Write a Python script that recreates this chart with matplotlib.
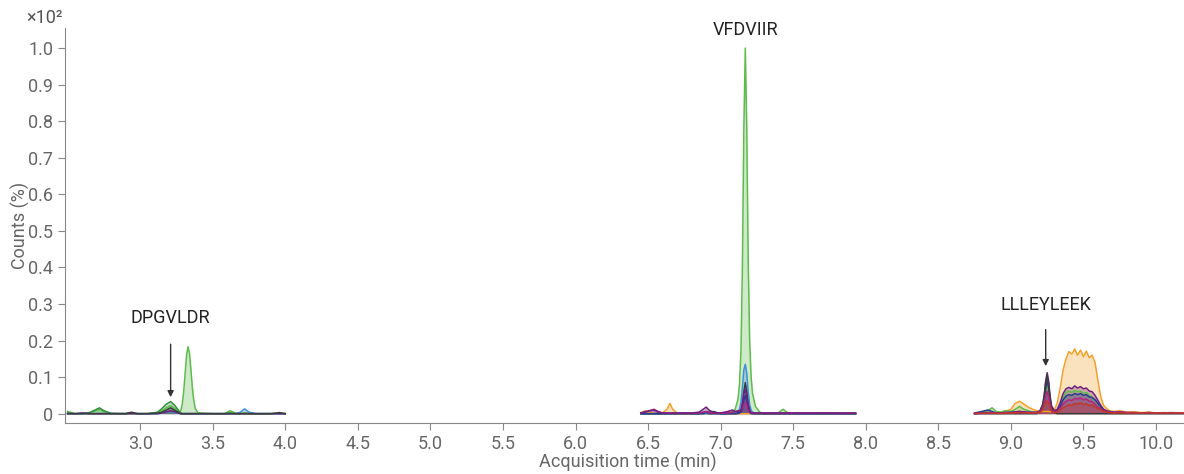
import matplotlib
matplotlib.use("Agg")
import matplotlib.pyplot as plt

plt.rcParams["font.family"] = ["Roboto", "DejaVu Sans"]

# segment 1 (2.5 - 4.0 min)
t1 = [2.50, 2.55, 2.60, 2.65, 2.69, 2.72, 2.75, 2.80, 2.90, 2.94, 2.98,
      3.05, 3.12, 3.15, 3.18, 3.21, 3.24, 3.27,
      3.28, 3.29, 3.30, 3.31, 3.32, 3.33, 3.34, 3.35, 3.36, 3.37, 3.38, 3.40,
      3.50, 3.58, 3.62, 3.66, 3.69, 3.72, 3.75, 3.80, 3.90, 3.96, 4.00]
s1_green = [0.006, 0, 0, 0.002, 0.008, 0.012, 0.006, 0, 0, 0.002, 0,
            0, 0.002, 0.008, 0.016, 0.022, 0.014, 0.004,
            0.008, 0.025, 0.06, 0.11, 0.16, 0.183, 0.165, 0.12, 0.07, 0.035, 0.014, 0.002,
            0, 0, 0.008, 0.001, 0, 0.003, 0, 0, 0, 0, 0]
s1_dkgreen = [0.002, 0, 0, 0.003, 0.010, 0.016, 0.008, 0.001, 0, 0, 0,
              0, 0.004, 0.014, 0.026, 0.033, 0.022, 0.006,
              0.002, 0, 0, 0, 0, 0, 0, 0, 0, 0, 0, 0,
              0, 0, 0.002, 0, 0, 0, 0, 0, 0, 0, 0]
s1_gray = [0, 0, 0, 0, 0, 0, 0, 0, 0, 0.004, 0,
           0, 0.001, 0.004, 0.010, 0.016, 0.009, 0.002,
           0, 0, 0, 0, 0, 0, 0, 0, 0, 0, 0, 0,
           0, 0, 0, 0, 0, 0, 0, 0, 0, 0.003, 0]
s1_blue = [0, 0, 0, 0, 0, 0, 0, 0, 0, 0.002, 0,
           0, 0, 0.002, 0.004, 0.006, 0.004, 0.001,
           0, 0, 0, 0, 0, 0, 0, 0, 0, 0, 0, 0,
           0, 0, 0, 0, 0.004, 0.013, 0.004, 0, 0, 0, 0]
s1_purple = [0, 0, 0.002, 0, 0, 0, 0, 0, 0, 0, 0,
             0, 0, 0.002, 0.005, 0.008, 0.005, 0.001,
             0, 0, 0, 0, 0, 0, 0, 0, 0, 0, 0, 0,
             0, 0, 0, 0, 0, 0, 0, 0, 0, 0, 0]

# segment 2 (6.45 - 7.93 min)
t2 = [6.45, 6.48, 6.51, 6.54, 6.57, 6.60, 6.63, 6.65, 6.67, 6.70,
      6.75, 6.80, 6.85, 6.88, 6.90, 6.92, 6.95, 7.00, 7.05, 7.08,
      7.10, 7.12, 7.13, 7.14, 7.15, 7.16, 7.17, 7.18, 7.19, 7.20,
      7.21, 7.22, 7.24, 7.27, 7.30, 7.35, 7.40, 7.43, 7.46, 7.50,
      7.60, 7.70, 7.80, 7.93]
s2_green = [0, 0, 0, 0, 0, 0, 0, 0, 0, 0,
            0, 0, 0, 0, 0, 0, 0, 0, 0.002, 0.005,
            0.012, 0.04, 0.08, 0.17, 0.40, 0.78, 1.0, 0.78, 0.42, 0.20,
            0.10, 0.055, 0.02, 0.004, 0, 0, 0.003, 0.012, 0.003, 0,
            0, 0, 0, 0]
s2_blue = [0, 0, 0, 0, 0, 0, 0, 0, 0, 0,
           0.002, 0, 0, 0, 0, 0, 0, 0, 0, 0.002,
           0.003, 0.005, 0.012, 0.03, 0.07, 0.12, 0.135, 0.11, 0.06, 0.025,
           0.01, 0.004, 0.001, 0, 0, 0, 0, 0, 0, 0,
           0, 0, 0, 0]
s2_gray = [0, 0, 0, 0, 0, 0, 0, 0, 0, 0,
           0, 0, 0, 0.004, 0.006, 0.004, 0.006, 0, 0, 0,
           0, 0.002, 0.003, 0.006, 0.02, 0.06, 0.085, 0.06, 0.025, 0.008,
           0.002, 0, 0, 0, 0, 0, 0, 0, 0, 0,
           0, 0, 0, 0]
s2_navy = [0, 0, 0, 0, 0, 0, 0, 0, 0, 0,
           0, 0, 0, 0, 0.004, 0, 0, 0, 0, 0,
           0, 0, 0.002, 0.004, 0.012, 0.035, 0.05, 0.035, 0.012, 0.003,
           0, 0, 0, 0, 0, 0, 0, 0, 0, 0,
           0, 0, 0, 0]
s2_purple = [0.002, 0.004, 0.008, 0.010, 0.004, 0.002, 0.002, 0.002, 0.002, 0.002,
             0.002, 0.002, 0.004, 0.012, 0.018, 0.010, 0.003, 0.002, 0.006, 0.010,
             0.006, 0.006, 0.008, 0.01, 0.03, 0.055, 0.065, 0.05, 0.025, 0.008,
             0.003, 0.002, 0.002, 0.002, 0.002, 0.002, 0.002, 0.002, 0.002, 0.002,
             0.002, 0.002, 0.002, 0.002]
s2_orange = [0.002, 0.008, 0.003, 0.001, 0, 0.002, 0.012, 0.028, 0.012, 0.002,
             0, 0, 0, 0, 0, 0, 0, 0, 0, 0,
             0, 0, 0, 0, 0, 0, 0, 0, 0, 0,
             0, 0, 0, 0, 0, 0, 0, 0, 0, 0,
             0, 0, 0, 0]
s2_magenta = [0.002, 0.006, 0.008, 0.012, 0.006, 0.002, 0.001, 0.001, 0.001, 0.001,
              0.001, 0.001, 0.002, 0.004, 0.006, 0.003, 0.001, 0.001, 0.002, 0.004,
              0.006, 0.008, 0.008, 0.01, 0.015, 0.025, 0.03, 0.025, 0.012, 0.004,
              0.002, 0.001, 0.001, 0.001, 0.001, 0.001, 0.001, 0.001, 0.001, 0.001,
              0.001, 0.002, 0.001, 0.001]

# segment 3 (8.75 - 10.2 min)
t3 = [8.75, 8.80, 8.84, 8.87, 8.90, 8.93, 8.96, 9.00, 9.03, 9.06,
      9.09, 9.12, 9.15, 9.18, 9.20, 9.22, 9.23, 9.24, 9.25, 9.26,
      9.27, 9.28, 9.30, 9.32, 9.34, 9.36, 9.38, 9.40, 9.42, 9.44,
      9.46, 9.48, 9.50, 9.52, 9.54, 9.56, 9.58, 9.60, 9.62, 9.64,
      9.66, 9.68, 9.71, 9.75, 9.80, 9.85, 9.90, 9.95, 10.00, 10.05,
      10.10, 10.20]
s3_orange = [0, 0.002, 0.004, 0.003, 0.002, 0.004, 0.006, 0.012, 0.028, 0.034,
             0.026, 0.018, 0.012, 0.008, 0.006, 0.006, 0.006, 0.006, 0.006, 0.006,
             0.005, 0.006, 0.01, 0.03, 0.07, 0.12, 0.15, 0.17, 0.163, 0.177,
             0.16, 0.174, 0.156, 0.171, 0.153, 0.16, 0.14, 0.09, 0.045, 0.022,
             0.014, 0.008, 0.006, 0.008, 0.004, 0.005, 0.003, 0.004, 0.002, 0.003,
             0.002, 0.002]
s3_green = [0, 0.003, 0.008, 0.016, 0.006, 0.004, 0.008, 0.006, 0.012, 0.02,
            0.012, 0.008, 0.004, 0.003, 0.006, 0.02, 0.04, 0.065, 0.075, 0.06,
            0.035, 0.015, 0.005, 0.01, 0.025, 0.045, 0.058, 0.062, 0.058, 0.064,
            0.06, 0.062, 0.056, 0.058, 0.05, 0.046, 0.038, 0.026, 0.016, 0.008,
            0.005, 0.003, 0.002, 0.002, 0.001, 0.001, 0.001, 0.001, 0.001, 0.001,
            0.001, 0.001]
s3_navy = [0.002, 0.006, 0.010, 0.006, 0.002, 0.002, 0.003, 0.003, 0.004, 0.006,
           0.004, 0.003, 0.003, 0.003, 0.006, 0.02, 0.04, 0.07, 0.09, 0.07,
           0.04, 0.015, 0.005, 0.008, 0.02, 0.038, 0.048, 0.052, 0.05, 0.055,
           0.052, 0.055, 0.05, 0.052, 0.046, 0.044, 0.038, 0.028, 0.018, 0.01,
           0.006, 0.004, 0.003, 0.003, 0.002, 0.002, 0.002, 0.002, 0.002, 0.002,
           0.002, 0.002]
s3_purple = [0, 0.002, 0.003, 0.002, 0.001, 0.002, 0.003, 0.004, 0.005, 0.006,
             0.005, 0.004, 0.004, 0.004, 0.008, 0.025, 0.05, 0.09, 0.112, 0.09,
             0.05, 0.022, 0.008, 0.012, 0.03, 0.055, 0.068, 0.072, 0.068, 0.076,
             0.07, 0.074, 0.068, 0.07, 0.062, 0.06, 0.05, 0.036, 0.022, 0.012,
             0.008, 0.006, 0.004, 0.005, 0.003, 0.003, 0.002, 0.003, 0.002, 0.002,
             0.002, 0.002]
s3_gray = [0, 0, 0, 0, 0, 0, 0, 0, 0, 0,
           0, 0, 0, 0, 0.006, 0.025, 0.05, 0.085, 0.105, 0.08,
           0.04, 0.015, 0.003, 0, 0, 0, 0, 0, 0, 0,
           0, 0, 0, 0, 0, 0, 0, 0, 0, 0,
           0, 0, 0, 0, 0, 0, 0, 0, 0, 0,
           0, 0]
s3_red = [0.001, 0.001, 0.001, 0.001, 0.001, 0.001, 0.001, 0.002, 0.002, 0.003,
          0.002, 0.002, 0.002, 0.002, 0.004, 0.01, 0.02, 0.03, 0.035, 0.028,
          0.015, 0.006, 0.003, 0.004, 0.01, 0.016, 0.02, 0.024, 0.022, 0.028,
          0.026, 0.03, 0.025, 0.027, 0.022, 0.024, 0.018, 0.014, 0.01, 0.006,
          0.004, 0.003, 0.002, 0.002, 0.002, 0.002, 0.002, 0.002, 0.002, 0.002,
          0.002, 0.002]
s3_magenta = [0, 0.001, 0.002, 0.002, 0.001, 0.001, 0.002, 0.002, 0.003, 0.003,
              0.003, 0.002, 0.002, 0.002, 0.005, 0.015, 0.03, 0.05, 0.06, 0.048,
              0.025, 0.01, 0.004, 0.006, 0.015, 0.026, 0.034, 0.038, 0.036, 0.042,
              0.04, 0.043, 0.038, 0.04, 0.034, 0.033, 0.026, 0.018, 0.012, 0.007,
              0.005, 0.003, 0.003, 0.004, 0.003, 0.003, 0.002, 0.003, 0.002, 0.002,
              0.003, 0.002]

# peptide labels: (name, time, text height, arrow start, arrow end)
labels = [("DPGVLDR", 3.21, 0.262, 0.19, 0.045),
          ("VFDVIIR", 7.17, 1.049, None, None),
          ("LLLEYLEEK", 9.24, 0.298, 0.23, 0.13)]

GREEN = "#5dbb4c"
DKGREEN = "#2f8f3c"
BLUE = "#3c8fd8"
GRAY = "#3c3c3c"
NAVY = "#2c3a90"
PURPLE = "#6d1f80"
ORANGE = "#f5a12a"
MAGENTA = "#b3257f"
RED = "#c0392b"

fig = plt.figure(figsize=(11.84, 4.74), dpi=100)
ax = fig.add_axes([0.055, 0.108, 0.945, 0.833])


def trace(t, v, c, alpha=0.3):
    ax.fill_between(t, v, 0, color=c, alpha=alpha, lw=0)
    ax.plot(t, v, color=c, lw=1.1)


# segment 1
trace(t1, s1_green, GREEN)
trace(t1, s1_dkgreen, DKGREEN)
trace(t1, s1_blue, BLUE)
trace(t1, s1_purple, PURPLE)
trace(t1, s1_gray, GRAY)

# segment 2
trace(t2, s2_green, GREEN)
trace(t2, s2_orange, ORANGE)
trace(t2, s2_blue, BLUE)
trace(t2, s2_gray, GRAY)
trace(t2, s2_navy, NAVY)
trace(t2, s2_magenta, MAGENTA)
trace(t2, s2_purple, PURPLE)

# segment 3
trace(t3, s3_orange, ORANGE)
trace(t3, s3_green, GREEN)
trace(t3, s3_navy, NAVY)
trace(t3, s3_purple, PURPLE)
trace(t3, s3_gray, GRAY)
trace(t3, s3_magenta, MAGENTA)
trace(t3, s3_red, RED)

for name, x, ty, a0, a1 in labels:
    ax.text(x, ty, name, ha="center", va="center", fontsize=13, color="#222222")
    if a0 is not None:
        ax.annotate("", xy=(x, a1), xytext=(x, a0),
                    arrowprops=dict(arrowstyle="-|>", color="#333333", lw=1,
                                    mutation_scale=9, shrinkA=0, shrinkB=0))

ax.set_xlim(2.483, 10.193)
ax.set_ylim(-0.025, 1.055)
xt = [3.0, 3.5, 4.0, 4.5, 5.0, 5.5, 6.0, 6.5, 7.0, 7.5, 8.0, 8.5, 9.0, 9.5, 10.0]
ax.set_xticks(xt)
ax.set_xticklabels([f"{v:.1f}" for v in xt])
yt = [0, 0.1, 0.2, 0.3, 0.4, 0.5, 0.6, 0.7, 0.8, 0.9, 1.0]
ax.set_yticks(yt)
ax.set_yticklabels(["0"] + [f"{v:.1f}" for v in yt[1:]])

for s in ["top", "right"]:
    ax.spines[s].set_visible(False)
for s in ["left", "bottom"]:
    ax.spines[s].set_color("#888888")
ax.tick_params(colors="#888888", labelcolor="#666666", labelsize=13, length=5)

ax.set_xlabel("Acquisition time (min)", fontsize=13, color="#666666")
ax.set_ylabel("Counts (%)", fontsize=13, color="#666666")
ax.xaxis.set_label_coords(0.503, -0.075)
ax.yaxis.set_label_coords(-0.031, 0.5)
fig.text(0.053, 0.963, "×10²", fontsize=13, color="#555555", ha="right", va="center")

fig.savefig("out.png", dpi=100)
